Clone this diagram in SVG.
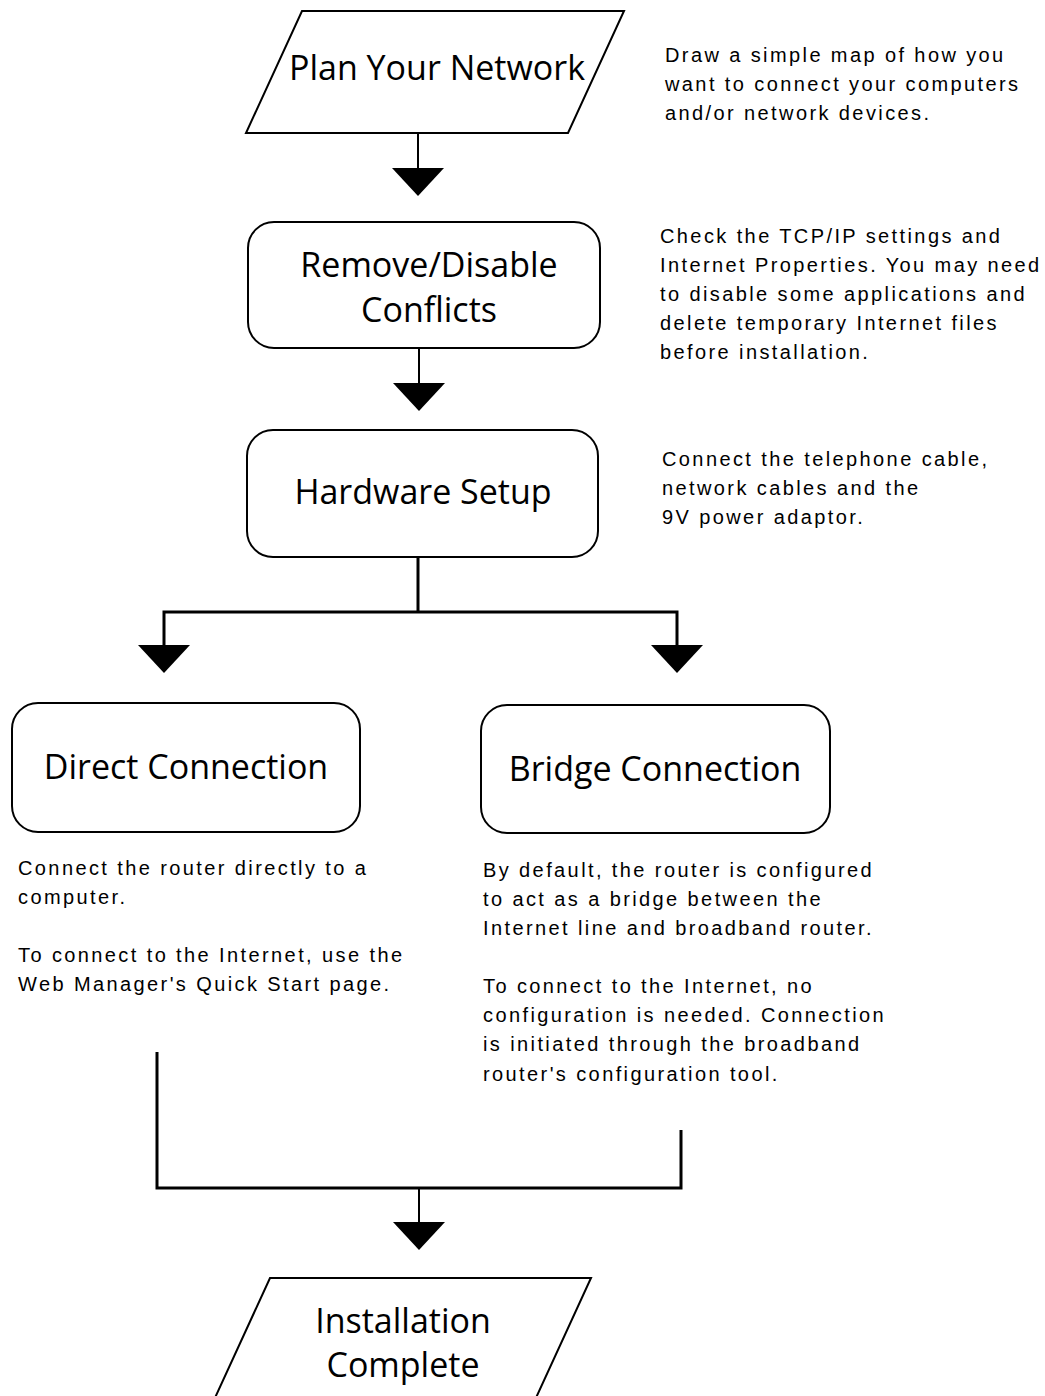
<svg xmlns="http://www.w3.org/2000/svg" xmlns:xlink="http://www.w3.org/1999/xlink" width="1045" height="1396" viewBox="0 0 1045 1396">
<style>
.shape{fill:#fff;stroke:#000;stroke-width:2}
.title{font-family:"Open Sans","Noto Sans",sans-serif;font-size:34px;fill:#000;text-anchor:middle}
.desc{font-family:"Liberation Sans",Arial,sans-serif;font-size:20px;letter-spacing:2.4px;fill:#000}
.stem{stroke:#000;stroke-width:2;fill:none}
.bus{stroke:#000;stroke-width:3;fill:none}
</style>
<defs>
<path id="head" d="M-26,0 L26,0 L0,28 Z" fill="#000"/>
</defs>
<rect width="1045" height="1396" fill="#fff"/>
<g id="connectors">
<line class="stem" x1="418" y1="133" x2="418" y2="170"/>
<use xlink:href="#head" x="418" y="168"/>
<line class="stem" x1="419" y1="348" x2="419" y2="385"/>
<use xlink:href="#head" x="419" y="383"/>
<polyline class="bus" points="164,647 164,612 677,612 677,647"/>
<line class="bus" x1="418" y1="557" x2="418" y2="612"/>
<use xlink:href="#head" x="164" y="645"/>
<use xlink:href="#head" x="677" y="645"/>
<polyline class="bus" points="157,1052 157,1188 681,1188 681,1130"/>
<line class="stem" x1="419" y1="1188" x2="419" y2="1224"/>
<use xlink:href="#head" x="419" y="1222"/>
</g>
<g id="plan">
<polygon class="shape" points="302,11 624,11 568,133 246,133"/>
<text class="title" x="437" y="80">Plan Your Network</text>
</g>
<g id="plan-note">
<text class="desc" x="665" y="62">Draw a simple map of how you</text>
<text class="desc" x="665" y="91">want to connect your computers</text>
<text class="desc" x="665" y="120">and/or network devices.</text>
</g>
<g id="remove">
<rect class="shape" x="248" y="222" width="352" height="126" rx="26"/>
<text class="title" x="429" y="277">Remove/Disable</text>
<text class="title" x="429" y="322">Conflicts</text>
</g>
<g id="remove-note">
<text class="desc" x="660" y="243">Check the TCP/IP settings and</text>
<text class="desc" x="660" y="272">Internet Properties. You may need</text>
<text class="desc" x="660" y="301">to disable some applications and</text>
<text class="desc" x="660" y="330">delete temporary Internet files</text>
<text class="desc" x="660" y="359">before installation.</text>
</g>
<g id="hardware">
<rect class="shape" x="247" y="430" width="351" height="127" rx="26"/>
<text class="title" x="423" y="504">Hardware Setup</text>
</g>
<g id="hardware-note">
<text class="desc" x="662" y="466">Connect the telephone cable,</text>
<text class="desc" x="662" y="495">network cables and the</text>
<text class="desc" x="662" y="524">9V power adaptor.</text>
</g>
<g id="direct">
<rect class="shape" x="12" y="703" width="348" height="129" rx="26"/>
<text class="title" x="186" y="779">Direct Connection</text>
</g>
<g id="direct-note">
<text class="desc" x="18" y="875">Connect the router directly to a</text>
<text class="desc" x="18" y="904">computer.</text>
<text class="desc" x="18" y="962">To connect to the Internet, use the</text>
<text class="desc" x="18" y="991">Web Manager's Quick Start page.</text>
</g>
<g id="bridge">
<rect class="shape" x="481" y="705" width="349" height="128" rx="26"/>
<text class="title" x="655" y="781">Bridge Connection</text>
</g>
<g id="bridge-note">
<text class="desc" x="483" y="877">By default, the router is configured</text>
<text class="desc" x="483" y="906">to act as a bridge between the</text>
<text class="desc" x="483" y="935">Internet line and broadband router.</text>
<text class="desc" x="483" y="993">To connect to the Internet, no</text>
<text class="desc" x="483" y="1022">configuration is needed. Connection</text>
<text class="desc" x="483" y="1051">is initiated through the broadband</text>
<text class="desc" x="483" y="1081">router's configuration tool.</text>
</g>
<g id="complete">
<polygon class="shape" points="270,1278 591,1278 535,1400 214,1400"/>
<text class="title" x="403" y="1333">Installation</text>
<text class="title" x="403" y="1377">Complete</text>
</g>
</svg>
